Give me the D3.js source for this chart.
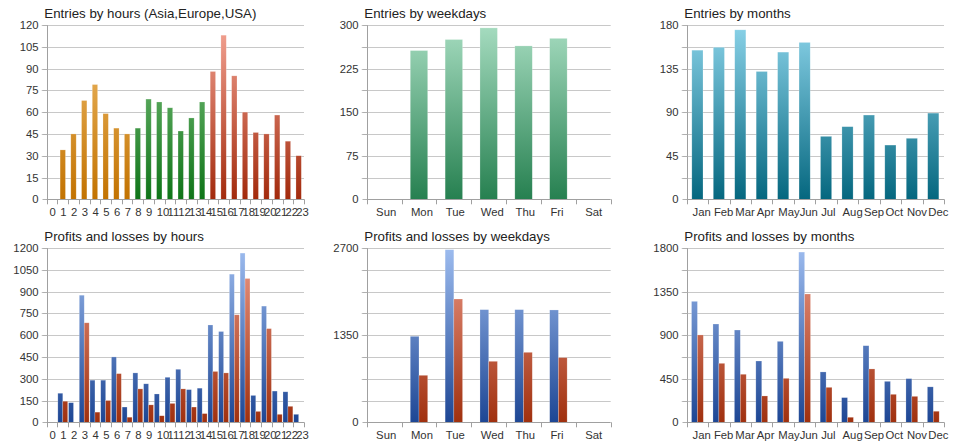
<!DOCTYPE html>
<html><head><meta charset="utf-8">
<script src="https://cdn.jsdelivr.net/npm/d3@7"></script>
<style>
html,body{margin:0;padding:0;background:#fff;}
svg{display:block;font-family:Arial,"Liberation Sans",sans-serif;}
</style></head>
<body><svg id="c" width="960" height="446"></svg>
<script>
// ---- data ----
const hourLabels = ["0","1","2","3","4","5","6","7","8","9","10","11","12","13","14","15","16","17","18","19","20","21","22","23"];
const hourRegions = ["Asia","Asia","Asia","Asia","Asia","Asia","Asia","Asia",
  "Europe","Europe","Europe","Europe","Europe","Europe","Europe",
  "USA","USA","USA","USA","USA","USA","USA","USA","USA"];
const hourEntries = [0,34,45,68,79,59,49,45,49,69,67,63,47,56,67,88,113,85,60,46,45,58,40,30];

const weekdays = ["Sun","Mon","Tue","Wed","Thu","Fri","Sat"];
const weekdayEntries = [0,256,275,295,264,277,0];

const months = ["Jan","Feb","Mar","Apr","May","Jun","Jul","Aug","Sep","Oct","Nov","Dec"];
const monthEntries = [154,157,175,132,152,162,65,75,87,56,63,89];

const hourProfits = [0,200,135,875,290,290,450,105,340,265,195,310,365,225,235,670,625,1020,1165,185,800,215,210,55];
const hourLosses  = [0,145,0,685,70,150,335,35,230,120,45,130,230,105,60,350,340,740,990,75,645,55,110,0];

const weekdayProfits = [0,1332,2674,1745,1745,1740,0];
const weekdayLosses  = [0,728,1910,945,1084,1002,0];

const monthProfits = [1249,1015,953,633,836,1758,520,255,791,423,451,366];
const monthLosses  = [902,609,496,272,454,1325,361,52,551,289,268,114];

const titles = ["Entries by hours (Asia,Europe,USA)","Entries by weekdays","Entries by months",
  "Profits and losses by hours","Profits and losses by weekdays","Profits and losses by months"];

// ---- colours ----
const grads = {
  Asia:   ["#f2c070","#c27200"],
  Europe: ["#86c886","#0f7418"],
  USA:    ["#f4a494","#a22a0c"],
  week:   ["#a6dcc0","#268050"],
  month:  ["#8ad2e8","#05677f"],
  profit: ["#9dbcef","#1d4694"],
  loss:   ["#ec9a88","#a0300e"]
};

const svg = d3.select("#c");
const defs = svg.append("defs");
let gid = 0;

function grad(key, y0, y1){
  const id = "g" + (gid++);
  const g = defs.append("linearGradient").attr("id", id)
    .attr("gradientUnits","userSpaceOnUse")
    .attr("x1",0).attr("x2",0).attr("y1",y0).attr("y2",y1);
  g.append("stop").attr("offset","0%").attr("stop-color",grads[key][0]);
  g.append("stop").attr("offset","100%").attr("stop-color",grads[key][1]);
  return "url(#" + id + ")";
}

function panel(cfg){
  const {x0,x1,y0,y1,title,cats,series,max,step,labelEvery,groupFrac} = cfg;
  const g = svg.append("g");
  const x = d3.scaleBand().domain(cats).range([x0,x1]).paddingInner(0).paddingOuter(0);
  const y = d3.scaleLinear().domain([0,max]).range([y1,y0]);
  const gridVals = d3.range(0, max + step/2, step);

  // gridlines
  g.append("g").selectAll("line").data(gridVals.filter(v=>v>0)).join("line")
    .attr("x1",x0-5).attr("x2",x1).attr("y1",d=>Math.round(y(d))+0.5).attr("y2",d=>Math.round(y(d))+0.5)
    .attr("stroke","#c8c8c8").attr("stroke-width",1);

  // left axis
  const ax = d3.axisLeft(y).tickValues(gridVals).tickSize(5).tickPadding(4)
    .tickFormat((d,i)=> (i % labelEvery === 0) ? d3.format("d")(d) : "");
  const ag = g.append("g").attr("transform",`translate(${Math.round(x0)+0.5},0)`).call(ax);
  ag.select(".domain").attr("stroke","#a0a0a0").attr("d",`M0,${y0}V${y1}`);
  ag.selectAll(".tick line").attr("stroke","#b0b0b0");
  ag.selectAll(".tick text").attr("font-size","11.3px").attr("fill","#333")
    .attr("font-family","Arial, 'Liberation Sans', sans-serif");
  ag.selectAll(".tick").attr("transform",d=>`translate(0,${Math.round(y(d))+0.5})`);

  // bars
  const nS = series.length;
  const bw = x.bandwidth();
  const groupW = bw * groupFrac;
  const sub = d3.scaleBand().domain(d3.range(nS)).range([0,groupW]).paddingInner(0);
  series.forEach((s, si)=>{
    g.append("g").selectAll("rect").data(s.values.map((v,i)=>({v,c:cats[i],k:s.color(i)})))
      .join("rect")
      .attr("x",d=> x(d.c) + (bw-groupW)/2 + sub(si))
      .attr("width", sub.bandwidth())
      .attr("y",d=> y(d.v))
      .attr("height",d=> y1 - y(d.v))
      .attr("fill",d=> s.fills[d.k])
      .attr("stroke",d=> d.v>0 ? "rgba(255,255,255,0.35)" : "none")
      .attr("stroke-width",0.6)
      .attr("display", d=> d.v>0 ? null : "none");
  });

  // baseline
  g.append("line").attr("x1",x0).attr("x2",x1).attr("y1",Math.round(y1)+0.5).attr("y2",Math.round(y1)+0.5)
    .attr("stroke","#a0a0a0");

  // bottom ticks at band boundaries
  const bounds = cats.map(c=>x(c)).concat([x1]);
  g.append("g").selectAll("line").data(bounds).join("line")
    .attr("x1",d=>Math.round(d)+0.5).attr("x2",d=>Math.round(d)+0.5)
    .attr("y1",y1).attr("y2",y1+5).attr("stroke","#a0a0a0");

  // x labels
  g.append("g").selectAll("text").data(cats).join("text")
    .attr("x",d=> x(d) + bw*0.27)
    .attr("y", y1 + 17)
    .attr("font-size","11.3px").attr("fill","#333")
    .text(d=>d);

  // title
  g.append("text").attr("x", x0 - 2.4).attr("y", y0 - 7.5)
    .attr("font-size","13.3px").attr("fill","#222").text(title);
}

const cols = [[46.7,304],[366.7,610.7],[686.7,944]];
const rows = [[25,199.3],[248,422.3]];

function fillsFor(keys, y0, y1){
  const f = {};
  keys.forEach(k=> f[k] = grad(k, y0, y1));
  return f;
}

// top row
panel({x0:cols[0][0],x1:cols[0][1],y0:rows[0][0],y1:rows[0][1],title:titles[0],cats:hourLabels,
  max:120,step:15,labelEvery:1,groupFrac:0.5,
  series:[{values:hourEntries,color:i=>hourRegions[i],fills:fillsFor(["Asia","Europe","USA"],rows[0][0],rows[0][1])}]});
panel({x0:cols[1][0],x1:cols[1][1],y0:rows[0][0],y1:rows[0][1],title:titles[1],cats:weekdays,
  max:300,step:37.5,labelEvery:2,groupFrac:0.5,
  series:[{values:weekdayEntries,color:()=>"week",fills:fillsFor(["week"],rows[0][0],rows[0][1])}]});
panel({x0:cols[2][0],x1:cols[2][1],y0:rows[0][0],y1:rows[0][1],title:titles[2],cats:months,
  max:180,step:22.5,labelEvery:2,groupFrac:0.52,
  series:[{values:monthEntries,color:()=>"month",fills:fillsFor(["month"],rows[0][0],rows[0][1])}]});

// bottom row
const pf = fillsFor(["profit","loss"],rows[1][0],rows[1][1]);
panel({x0:cols[0][0],x1:cols[0][1],y0:rows[1][0],y1:rows[1][1],title:titles[3],cats:hourLabels,
  max:1200,step:150,labelEvery:1,groupFrac:0.92,
  series:[{values:hourProfits,color:()=>"profit",fills:pf},{values:hourLosses,color:()=>"loss",fills:pf}]});
panel({x0:cols[1][0],x1:cols[1][1],y0:rows[1][0],y1:rows[1][1],title:titles[4],cats:weekdays,
  max:2700,step:337.5,labelEvery:4,groupFrac:0.5,
  series:[{values:weekdayProfits,color:()=>"profit",fills:pf},{values:weekdayLosses,color:()=>"loss",fills:pf}]});
panel({x0:cols[2][0],x1:cols[2][1],y0:rows[1][0],y1:rows[1][1],title:titles[5],cats:months,
  max:1800,step:225,labelEvery:2,groupFrac:0.55,
  series:[{values:monthProfits,color:()=>"profit",fills:pf},{values:monthLosses,color:()=>"loss",fills:pf}]});
</script></body></html>
